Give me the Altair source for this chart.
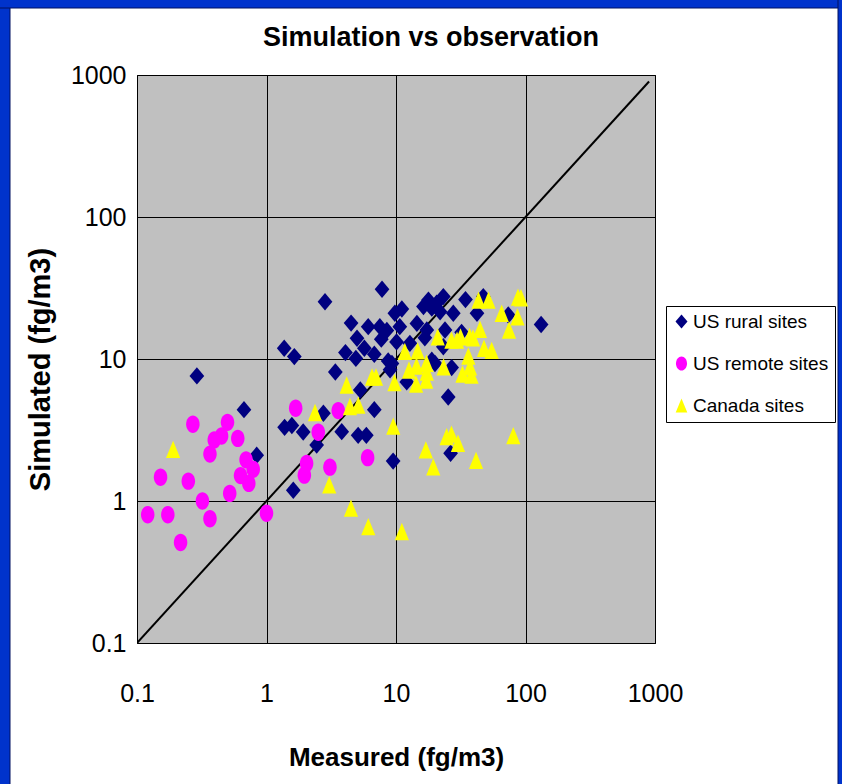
import altair as alt
import pandas as pd

# ---- data ----
rural_x = [0.29, 0.67, 0.84, 1.37, 1.64, 2.83, 7.8, 1.38, 1.57, 1.92, 2.44, 1.61, 2.75, 3.81,
           5.1, 5.9, 5.3, 6.8, 9.5, 3.4, 4.07, 4.5, 5.0, 4.9, 5.7, 6.1, 6.8, 7.5, 7.7, 8.5,
           8.7, 9.8, 11.1, 10.7, 10.1, 9.0, 12.1, 14.5, 16.3, 17.8, 18.9, 20.6, 23.2, 21.9,
           27.7, 34.4, 42.2, 47.2, 73.6, 132, 25.3, 26.4, 20.0, 26.9, 17.3, 12.8, 23.9, 32.1,
           23.2, 18.9, 16.7, 9.3]
rural_y = [7.6, 4.4, 2.1, 11.9, 10.4, 25.3, 31, 3.3, 3.4, 3.06, 2.48, 1.19, 4.15, 3.08,
           2.9, 2.9, 6.05, 4.4, 1.91, 8.1, 11.1, 17.9, 14.0, 10.1, 11.9, 16.9, 10.8, 16.9, 13.8, 15.9,
           9.7, 21.0, 22.5, 16.9, 13.2, 8.4, 6.9, 17.8, 23.4, 26.0, 22.8, 24.7, 27.5, 21.5,
           21.0, 26.2, 21.0, 27.5, 20.4, 17.5, 5.4, 2.17, 9.3, 8.7, 16.0, 12.9, 16.0, 15.4,
           12.2, 9.8, 14.1, 9.3]

remote_x = [0.27, 0.50, 0.395, 0.45, 0.60, 0.366, 0.695, 0.79, 0.63, 0.73, 0.152, 0.249, 0.52,
            0.32, 0.121, 0.173, 0.366, 0.217, 1.0, 1.68, 3.58, 2.51, 2.04, 3.09, 1.96, 6.04]
remote_y = [3.47, 3.58, 2.69, 2.87, 2.76, 2.14, 1.95, 1.67, 1.51, 1.33, 1.47, 1.38, 1.13,
            1.0, 0.80, 0.80, 0.75, 0.51, 0.82, 4.5, 4.33, 3.05, 1.84, 1.73, 1.52, 2.02]

canada_x = [0.19, 2.37, 4.16, 4.41, 5.12, 6.53, 7.01, 9.73, 9.53, 11.7, 14.7, 12.6, 14.4, 17.2,
            17.3, 14.3, 17.1, 21.0, 23.3, 26.8, 29.6, 31.5, 37.0, 39.3, 44.5, 47.8, 54.8, 36.2,
            37.3, 32.6, 38.3, 43.4, 51.8, 65.5, 87.5, 92.3, 86.7, 74.6, 17.0, 19.4, 24.6, 26.8,
            30.1, 41.5, 80.5, 3.05, 4.49, 6.11, 11.1]
canada_y = [2.31, 4.2, 6.56, 4.63, 4.74, 7.47, 7.47, 6.83, 3.37, 11.3, 11.4, 8.37, 8.93, 9.33,
            8.1, 6.67, 7.11, 14.3, 8.79, 13.6, 13.6, 14.3, 14.4, 14.1, 16.2, 11.9, 11.5, 10.5,
            8.79, 7.84, 7.71, 26.0, 26.0, 21.0, 27.3, 27.0, 19.8, 16.0, 2.29, 1.74, 2.84, 2.96,
            2.55, 1.93, 2.89, 1.30, 0.89, 0.66, 0.61]

series = ["US rural sites", "US remote sites", "Canada sites"]
colors = ["#000080", "#FF00FF", "#FFFF00"]
tick_vals = [0.1, 1, 10, 100, 1000]
line_vals = [0.1, 900]
title_text = "Simulation vs observation"

DIAMOND = "M0,-1L0.85,0L0,1L-0.85,0Z"
ELLIPSE = "M-0.78,0A0.78,1 0 1,0 0.78,0A0.78,1 0 1,0 -0.78,0Z"
TRIANGLE = "M0,-1L0.82,1L-0.82,1Z"

rows = []
for name, xs, ys in [(series[0], rural_x, rural_y), (series[1], remote_x, remote_y),
                     (series[2], canada_x, canada_y)]:
    for x, y in zip(xs, ys):
        rows.append({"Measured": x, "Simulated": y, "Series": name})
df = pd.DataFrame(rows)
line_df = pd.DataFrame({"Measured": line_vals, "Simulated": line_vals})

W, H = 518, 568
FONT = "Liberation Sans"

xscale = alt.Scale(type="log", domain=[0.1, 1000], nice=False)
yscale = alt.Scale(type="log", domain=[0.1, 1000], nice=False)
label_expr = "datum.value < 1 ? '0.1' : format(datum.value, 'd')"

points = alt.Chart(df).mark_point(filled=True, opacity=1, size=300, strokeWidth=0).encode(
    x=alt.X("Measured:Q", scale=xscale,
            axis=alt.Axis(values=tick_vals, labelExpr=label_expr, title="Measured (fg/m3)",
                          grid=True, gridColor="black", gridWidth=1, gridOpacity=1,
                          ticks=False, domain=False, labelFont=FONT, labelFontSize=25,
                          labelColor="black", labelPadding=38, labelFlush=False,
                          titleFont=FONT, titleFontSize=26, titleFontWeight="bold",
                          titleColor="black", titleY=114, titleBaseline="middle")),
    y=alt.Y("Simulated:Q", scale=yscale,
            axis=alt.Axis(values=tick_vals, labelExpr=label_expr, title="Simulated  (fg/m3)",
                          grid=True, gridColor="black", gridWidth=1, gridOpacity=1,
                          ticks=False, domain=False, labelFont=FONT, labelFontSize=25,
                          labelColor="black", labelPadding=11, labelFlush=False,
                          titleFont=FONT, titleFontSize=29, titleFontWeight="bold",
                          titleColor="black", titleX=-97, titleY=294,
                          titleAngle=270, titleBaseline="middle", titleAlign="center")),
    color=alt.Color("Series:N", scale=alt.Scale(domain=series, range=colors),
                    legend=alt.Legend(title=None, orient="none", legendX=529, legendY=231,
                                      fillColor="white", strokeColor="black", padding=6,
                                      labelFont=FONT, labelFontSize=19,
                                      labelColor="black", rowPadding=22, symbolSize=200,
                                      symbolStrokeWidth=0, symbolOpacity=1, labelOffset=2,
                                      labelLimit=300)),
    shape=alt.Shape("Series:N", scale=alt.Scale(domain=series,
                                                range=[DIAMOND, ELLIPSE, TRIANGLE]),
                    legend=None),
)

diag = alt.Chart(line_df).mark_line(color="black", strokeWidth=2, clip=True).encode(
    x=alt.X("Measured:Q", scale=xscale),
    y=alt.Y("Simulated:Q", scale=yscale),
)

blank = alt.Data(values=[{"k": 1}])
title_mark = alt.Chart(blank).mark_text(font=FONT, fontSize=27, fontWeight="bold",
                                        color="black", align="center",
                                        baseline="middle").encode(
    x=alt.value(294), y=alt.value(-37), text=alt.value(title_text))

frame_style = dict(color="#0033CC", stroke="#001060", strokeWidth=1)
frame_left = alt.Chart(blank).mark_rect(**frame_style).encode(
    x=alt.value(-140), x2=alt.value(-127), y=alt.value(-80), y2=alt.value(715))
frame_top = alt.Chart(blank).mark_rect(**frame_style).encode(
    x=alt.value(-140), x2=alt.value(710), y=alt.value(-80), y2=alt.value(-67))
frame_right = alt.Chart(blank).mark_rect(**frame_style).encode(
    x=alt.value(701), x2=alt.value(710), y=alt.value(-80), y2=alt.value(715))

chart = alt.layer(diag, points, title_mark, frame_left, frame_top, frame_right).properties(
    width=W, height=H,
    autosize=alt.AutoSizeParams(type="none"),
    padding={"left": 137, "top": 75, "right": 187, "bottom": 141},
    background="white",
).configure_view(fill="#C0C0C0", stroke="black", strokeWidth=1)

chart.save("out.html", embed_options={"renderer": "svg", "actions": False})
